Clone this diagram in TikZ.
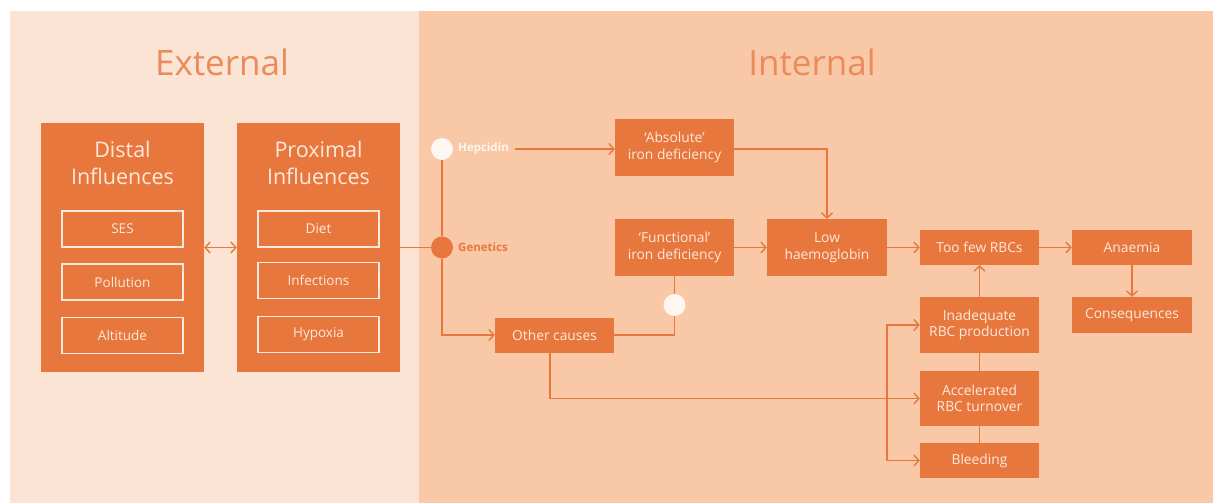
\documentclass[tikz,border=0pt]{standalone}
\usepackage{fontspec}
\setmainfont{Open Sans}
\usetikzlibrary{arrows.meta}
\definecolor{boxOrange}{HTML}{E8773E}
\definecolor{extPeach}{HTML}{FCE4D4}
\definecolor{intPeach}{HTML}{F9C8A6}
\definecolor{paleText}{HTML}{FDE9DC}
\definecolor{dotWhite}{HTML}{FEF6F0}

\begin{document}
\begin{tikzpicture}[x=1pt, y=-1pt, >={Straight Barb[length=5pt,width=11pt]}]

    \tikzset{
        box/.style={fill=boxOrange, text=paleText, align=center, inner sep=0pt,
            font=\fontsize{13.8}{16.5}\selectfont},
        panel/.style={fill=boxOrange, inner sep=0pt, minimum width=163pt, minimum height=249pt},
        inbox/.style={draw=paleText, line width=1.2pt, text=paleText, inner sep=0pt,
            minimum width=121pt, minimum height=36pt, font=\fontsize{13.5}{15}\selectfont},
        link/.style={draw=boxOrange, line width=1.4pt},
        dot/.style={circle, inner sep=0pt, minimum size=22pt},
        title/.style={text=boxOrange!85!white, font=\fontsize{35}{38}\selectfont}
    }

    % --- 1. Background ---
    \useasboundingbox (0,0) rectangle (1215,503);
    \fill[white] (0,0) rectangle (1215,503);
    \fill[extPeach] (10,11) rectangle (419,503);
    \fill[intPeach] (419,11) rectangle (1213,503);

    \node[title] (extTitle) at (222,62) {External};
    \node[title] (intTitle) at (812,62) {Internal};

    % --- 2. External influences ---
    \node[panel] (distal) at (122.5,247.5) {};
    \node[text=paleText, align=center, font=\fontsize{21.5}{27}\selectfont] (distalTitle) at (122.5,163) {Distal\\Influences};
    \node[inbox] (ses) at (122.5,229) {SES};
    \node[inbox] (pollution) at (122.5,282) {Pollution};
    \node[inbox] (altitude) at (122.5,335.5) {Altitude};

    \node[panel] (proximal) at (318.5,247.5) {};
    \node[text=paleText, align=center, font=\fontsize{21.5}{27}\selectfont] (proximalTitle) at (318.5,163) {Proximal\\Influences};
    \node[inbox] (diet) at (318.5,229) {Diet};
    \node[inbox] (infections) at (318.5,280.5) {Infections};
    \node[inbox] (hypoxia) at (318.5,334.5) {Hypoxia};

    \draw[link,<->] (distal.east) -- (proximal.west);

    % --- 3. Internal pathway ---
    \node[dot, fill=dotWhite] (hepcidin) at (442,149) {};
    \node[dot, fill=boxOrange] (genetics) at (442,247.5) {};
    \node[anchor=west, text=dotWhite, inner sep=2pt, font=\fontsize{11.5}{13}\selectfont\bfseries] (hepLabel) at (456,149) {Hepcidin};
    \node[anchor=west, text=boxOrange, inner sep=2pt, font=\fontsize{11.5}{13}\selectfont\bfseries] (genLabel) at (456,247.5) {Genetics};

    \node[box, minimum width=119pt, minimum height=57pt] (absolute) at (674.5,147.5) {`Absolute'\\iron deficiency};
    \node[box, minimum width=119pt, minimum height=57pt] (functional) at (674.5,247.5) {`Functional'\\iron deficiency};
    \node[box, minimum width=119pt, minimum height=35pt] (other) at (554.5,335) {Other causes};
    \node[dot, fill=dotWhite] (funcDot) at (674.5,305) {};

    \node[box, minimum width=120pt, minimum height=57pt] (low) at (827,247.5) {Low\\haemoglobin};
    \node[box, minimum width=119pt, minimum height=35pt] (toofew) at (979.5,247.5) {Too few RBCs};
    \node[box, minimum width=120pt, minimum height=35pt] (anaemia) at (1132,247.5) {Anaemia};
    \node[box, minimum width=120pt, minimum height=36pt] (consequences) at (1132,315) {Consequences};

    \node[box, minimum width=119pt, minimum height=56pt] (inadequate) at (979.5,325) {Inadequate\\RBC production};
    \node[box, minimum width=119pt, minimum height=55pt] (accelerated) at (979.5,398.5) {Accelerated\\RBC turnover};
    \node[box, minimum width=119pt, minimum height=35pt] (bleeding) at (979.5,460.5) {Bleeding};

    % --- 4. Connectors ---
    \draw[link] (proximal.east) -- (genetics);
    \draw[link] (hepcidin) -- (genetics);
    \draw[link,->] (genetics) |- (other.west);
    \draw[link,->] ([xshift=4pt]hepLabel.east) -- (absolute.west |- hepLabel.east);
    \draw[link,->] (absolute.east |- hepLabel.east) -| (low.north);
    \draw[link,->] (functional.east) -- (low.west);
    \draw[link] (other.east) -| (funcDot);
    \draw[link] (funcDot) -- (functional.south);
    \draw[link,->] (low.east) -- (toofew.west);
    \draw[link,->] (toofew.east) -- (anaemia.west);
    \draw[link,->] (anaemia.south) -- (consequences.north);
    \draw[link,->] (inadequate.north) -- (toofew.south);
    \draw[link] (inadequate.south) -- (accelerated.north);
    \draw[link] (accelerated.south) -- (bleeding.north);
    \draw[link,->] ([xshift=-4.5pt]other.south) |- (accelerated.west);
    \draw[link,<->] (inadequate.west) -- ++(-33,0) |- (bleeding.west);

\end{tikzpicture}
\end{document}
